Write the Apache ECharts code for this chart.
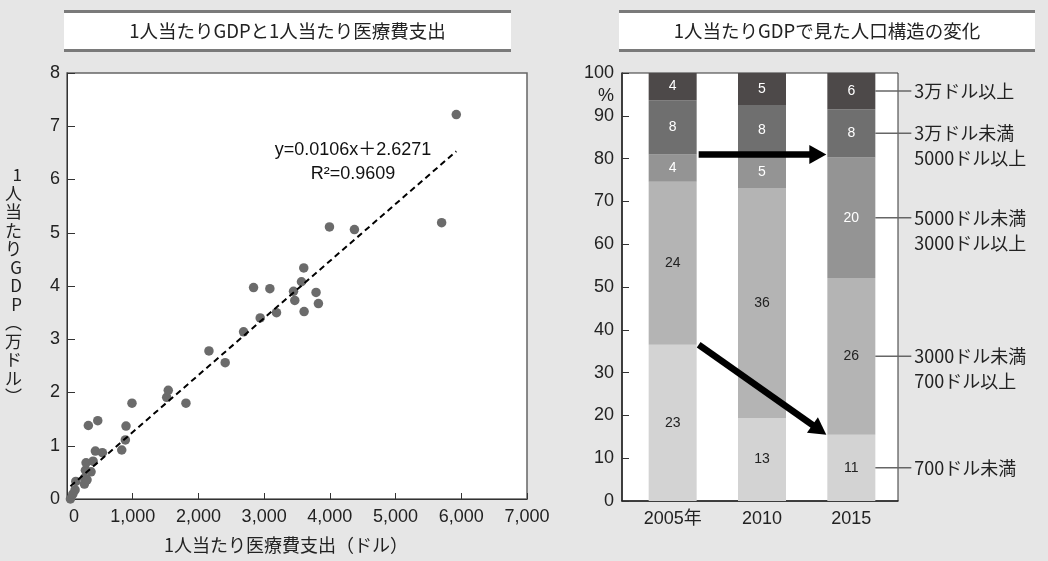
<!DOCTYPE html>
<html><head><meta charset="utf-8">
<script src="https://cdn.jsdelivr.net/npm/echarts@6/dist/echarts.min.js"></script>
<style>html,body{margin:0;padding:0;background:#e6e6e6}#c{width:1048px;height:561px}</style>
</head><body><div id="c"></div>
<script>
// ---- Left chart data: health spending per capita (USD) vs GDP per capita (10k USD)
const spendX = [52, 88, 123, 134, 265, 265, 305, 280, 366, 290, 397, 432, 538, 325, 468, 833, 888, 898, 989, 1517, 1541, 1810, 2160, 2407, 2687, 2940, 3188, 3608, 3826, 3466, 3790, 3447, 3087, 2839, 3568, 3603, 4374, 3994, 5701, 5924];
const gdpY   = [0.00, 0.09, 0.17, 0.33, 0.28, 0.39, 0.36, 0.54, 0.51, 0.68, 0.71, 0.90, 0.87, 1.38, 1.47, 0.92, 1.11, 1.37, 1.80, 1.91, 2.04, 1.80, 2.78, 2.56, 3.14, 3.40, 3.50, 3.52, 3.67, 3.73, 3.88, 3.90, 3.95, 3.97, 4.08, 4.34, 5.06, 5.11, 5.19, 7.22];
const trendX = [52, 5924];
const trendY = [0.24, 6.53];
const eqText = 'y=0.0106x＋2.6271';
const r2Text = 'R²=0.9609';

// ---- Right chart data: population by GDP-per-capita band
const years = ['2005年', '2010', '2015'];
const bandNames = ['700ドル未満', '3000ドル未満\n700ドル以上', '5000ドル未満\n3000ドル以上', '3万ドル未満\n5000ドル以上', '3万ドル以上'];
const popUnder700   = [23, 13, 11];
const pop700to3k    = [24, 36, 26];
const pop3kto5k     = [4, 5, 20];
const pop5kto30k    = [8, 8, 8];
const popOver30k    = [4, 5, 6];
const bandColors = ['#d3d3d3', '#b4b4b4', '#949494', '#6f6f6f', '#4d4949'];
const bandTextColors = ['#222', '#222', '#fff', '#fff', '#fff'];

const bands = [popUnder700, pop700to3k, pop3kto5k, pop5kto30k, popOver30k];
const totals = years.map((_, j) => bands.reduce((s, b) => s + b[j], 0));
const pct = bands.map(b => b.map((v, j) => v / totals[j] * 100));
const cum = [];
bands.forEach((b, i) => cum.push(b.map((v, j) => (i ? cum[i-1][j] : 0) + pct[i][j])));

const JP = '"Noto Sans CJK JP", "Liberation Sans", sans-serif';
const NUM = '"Liberation Sans", "Noto Sans CJK JP", sans-serif';
const BAR_W = 48;

const chart = echarts.init(document.getElementById('c'));

const barSeries = bands.map((b, i) => ({
  type: 'bar', name: bandNames[i], stack: 'p', xAxisIndex: 2, yAxisIndex: 2,
  barWidth: BAR_W,
  data: pct[i].map((v, j) => ({ value: v, raw: b[j] })),
  itemStyle: { color: bandColors[i] },
  label: { show: true, position: 'inside', fontFamily: NUM, fontSize: 14, color: bandTextColors[i],
    formatter: p => String(p.data.raw) },
  silent: true, animation: false
}));

const leaderData = bands.map((b, i) => [2, cum[i][2] - pct[i][2] / 2, i]);
const arrowData = [
  [0, cum[2][0], 2, cum[2][0]],
  [0, cum[0][0], 2, cum[0][2]]
];

function titleBox(x, w, text) {
  return [
    { type: 'rect', shape: { x: x, y: 10, width: w, height: 42 }, style: { fill: '#fff' } },
    { type: 'rect', shape: { x: x, y: 10, width: w, height: 3 }, style: { fill: '#7a7a7a' } },
    { type: 'rect', shape: { x: x, y: 49, width: w, height: 3 }, style: { fill: '#7a7a7a' } },
    { type: 'text', x: x + w / 2, y: 31, style: { text: text, font: '18.5px ' + JP, fill: '#222', align: 'center', verticalAlign: 'middle' } }
  ];
}

chart.setOption({
  backgroundColor: '#e6e6e6',
  animation: false,
  grid: [
    { left: 67, right: 521, top: 73, bottom: 62, show: true, borderColor: '#666', borderWidth: 1.5, backgroundColor: '#fff' },
    { left: 622, right: 150, top: 73, bottom: 60, show: true, borderColor: '#333', borderWidth: 1, backgroundColor: '#fff' },
    { left: 628, right: 152, top: 73, bottom: 60 }
  ],
  xAxis: [
    { gridIndex: 0, type: 'value', min: 0, max: 7000, interval: 1000,
      axisLine: { show: true, lineStyle: { color: '#333' } },
      axisTick: { show: true, inside: true, length: 6, lineStyle: { color: '#333' } },
      splitLine: { show: false },
      axisLabel: { fontFamily: NUM, fontSize: 18, color: '#222', margin: 9,
        formatter: v => v === 0 ? '{z|0}' : v.toLocaleString('en-US'),
        rich: { z: { fontFamily: NUM, fontSize: 18, color: '#222', padding: [0, 0, 0, 14] } } },
      name: '1人当たり医療費支出（ドル）', nameLocation: 'middle', nameGap: 37,
      nameTextStyle: { fontFamily: JP, fontSize: 18, color: '#222', padding: [0, 22, 0, 0] } },
    { gridIndex: 1, type: 'value', min: 0, max: 1,
      axisLine: { show: true, lineStyle: { color: '#222', width: 1.5 } },
      axisTick: { show: false }, axisLabel: { show: false }, splitLine: { show: false } },
    { gridIndex: 2, type: 'category', data: years,
      axisLine: { show: false }, axisTick: { show: false },
      axisLabel: { fontFamily: NUM, fontSize: 18, color: '#222', margin: 9 } }
  ],
  yAxis: [
    { gridIndex: 0, type: 'value', min: 0, max: 8, interval: 1,
      axisLine: { show: true, lineStyle: { color: '#333' } },
      axisTick: { show: true, inside: true, length: 8, lineStyle: { color: '#333' } },
      splitLine: { show: false },
      axisLabel: { fontFamily: NUM, fontSize: 18, color: '#222', margin: 7 },
      name: '1人当たりGDP︵万ドル︶'.split('').join('\n'), nameLocation: 'middle', nameRotate: 0, nameGap: 45,
      nameTextStyle: { fontFamily: JP, fontSize: 17, color: '#222', lineHeight: 18.5 } },
    { gridIndex: 1, type: 'value', min: 0, max: 100, interval: 10,
      axisLine: { show: true, lineStyle: { color: '#222', width: 1.5 } },
      axisTick: { show: true, inside: true, length: 7, lineStyle: { color: '#333' } },
      splitLine: { show: false },
      axisLabel: { fontFamily: NUM, fontSize: 18, color: '#222', margin: 8 } },
    { gridIndex: 2, type: 'value', min: 0, max: 100, show: false }
  ],
  series: [
    { type: 'scatter', xAxisIndex: 0, yAxisIndex: 0, symbolSize: 9.5,
      itemStyle: { color: '#6b6b6b', opacity: 1 },
      data: spendX.map((x, i) => [x, gdpY[i]]), z: 3 },
    { type: 'line', xAxisIndex: 0, yAxisIndex: 0, symbol: 'none',
      lineStyle: { color: '#000', width: 2, type: [6, 4] },
      data: trendX.map((x, i) => [x, trendY[i]]), z: 4, silent: true },
    ...barSeries,
    { type: 'custom', xAxisIndex: 2, yAxisIndex: 2, data: leaderData, z: 5, silent: true, clip: false,
      renderItem: (params, api) => {
        const p = api.coord([api.value(0), api.value(1)]);
        const idx = api.value(2);
        const x0 = p[0] + BAR_W / 2;
        return { type: 'group', children: [
          { type: 'line', shape: { x1: x0, y1: p[1], x2: x0 + 36, y2: p[1] }, style: { stroke: '#666', lineWidth: 1.5 } },
          { type: 'text', style: { x: x0 + 39, y: p[1] - 12.5, text: bandNames[idx], font: '18px ' + JP, fill: '#222', verticalAlign: 'top', lineHeight: 25 } }
        ] };
      } },
    { type: 'custom', xAxisIndex: 2, yAxisIndex: 2, data: arrowData, z: 6, silent: true, clip: false,
      encode: { x: [0, 2], y: [1, 3] },
      renderItem: (params, api) => {
        const a = api.coord([api.value(0), api.value(1)]);
        const b = api.coord([api.value(2), api.value(3)]);
        const sx = a[0] + BAR_W / 2 + 2, sy = a[1];
        const ex = b[0] - BAR_W / 2 - 1, ey = b[1];
        const dx = ex - sx, dy = ey - sy, L = Math.hypot(dx, dy);
        const ux = dx / L, uy = dy / L, px = -uy, py = ux;
        const hl = 17, hw = 9.5;
        const bx = ex - ux * hl, by = ey - uy * hl;
        return { type: 'group', children: [
          { type: 'line', shape: { x1: sx, y1: sy, x2: bx + ux * 1, y2: by + uy * 1 }, style: { stroke: '#000', lineWidth: 6.5 } },
          { type: 'polygon', shape: { points: [[ex, ey], [bx + px * hw, by + py * hw], [bx - px * hw, by - py * hw]] }, style: { fill: '#000' } }
        ] };
      } }
  ],
  graphic: [
    ...titleBox(64, 447, '1人当たりGDPと1人当たり医療費支出'),
    ...titleBox(619, 416, '1人当たりGDPで見た人口構造の変化'),
    { type: 'text', x: 353, y: 150, z: 10, style: { text: eqText, font: '18px ' + NUM, fill: '#111', align: 'center', verticalAlign: 'middle' } },
    { type: 'text', x: 353, y: 174, z: 10, style: { text: r2Text, font: '18px ' + NUM, fill: '#111', align: 'center', verticalAlign: 'middle' } },
    { type: 'text', x: 614, y: 96, z: 10, style: { text: '%', font: '18px ' + NUM, fill: '#222', align: 'right', verticalAlign: 'middle' } }
  ]
});
</script>
</body></html>
